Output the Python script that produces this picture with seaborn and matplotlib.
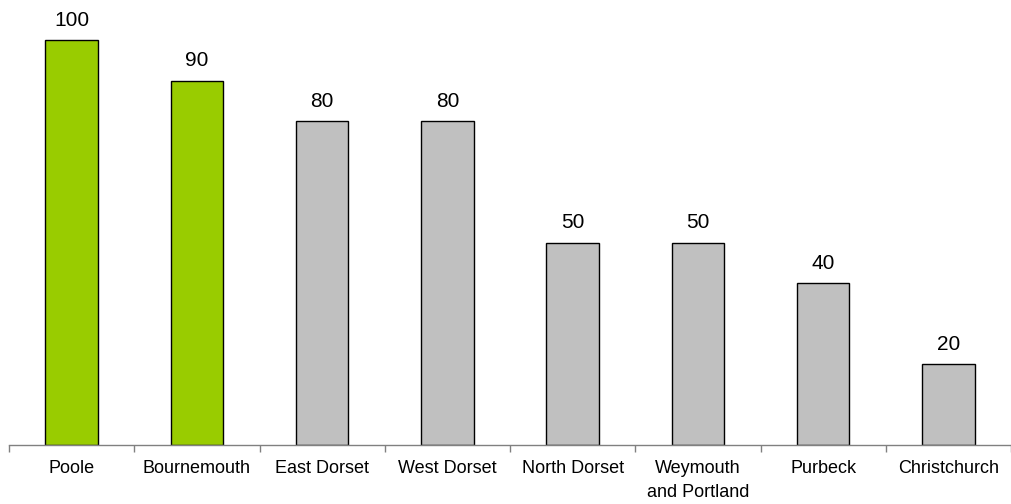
import matplotlib
matplotlib.use("Agg")
import matplotlib.pyplot as plt
import seaborn as sns
import pandas as pd
from matplotlib.ticker import FixedLocator

sns.set_theme(style="white")
plt.rcParams["font.family"] = ["Liberation Sans", "DejaVu Sans"]

districts = ["Poole", "Bournemouth", "East Dorset", "West Dorset",
             "North Dorset", "Weymouth\nand Portland", "Purbeck", "Christchurch"]
values = [100, 90, 80, 80, 50, 50, 40, 20]
bar_colors = ["#99CC00", "#99CC00", "#C0C0C0", "#C0C0C0",
              "#C0C0C0", "#C0C0C0", "#C0C0C0", "#C0C0C0"]

df = pd.DataFrame({"district": districts, "value": values})

fig = plt.figure(figsize=(10.11, 5.04), dpi=100)
ax = fig.add_axes([9 / 1011, 59 / 504, 1 - 9 / 1011, 445 / 504])

sns.barplot(data=df, x="district", y="value", hue="district",
            palette=bar_colors, legend=False, width=0.42,
            edgecolor="black", linewidth=1.0, saturation=1, ax=ax)

for i, v in enumerate(values):
    ax.text(i, v + 2.5, f"{v}", ha="center", va="bottom", fontsize=15, color="black")

ax.set_xlim(-0.5, len(values) - 0.5)
ax.set_ylim(0, 109.9)
ax.set_xlabel("")
ax.set_ylabel("")
ax.set_yticks([])

for side in ["left", "right", "top"]:
    ax.spines[side].set_visible(False)
ax.spines["bottom"].set_color("#808080")
ax.spines["bottom"].set_linewidth(1.0)

ax.set_xticks(range(len(values)))
ax.set_xticklabels(districts, linespacing=1.5)
ax.xaxis.set_minor_locator(FixedLocator([i - 0.5 for i in range(len(values) + 1)]))
ax.tick_params(axis="x", which="major", bottom=False, length=0, pad=11,
               labelsize=13, colors="black")
ax.tick_params(axis="x", which="minor", bottom=True, length=5, width=1.0,
               color="#808080", direction="out")

fig.savefig("out.png", dpi=100)
